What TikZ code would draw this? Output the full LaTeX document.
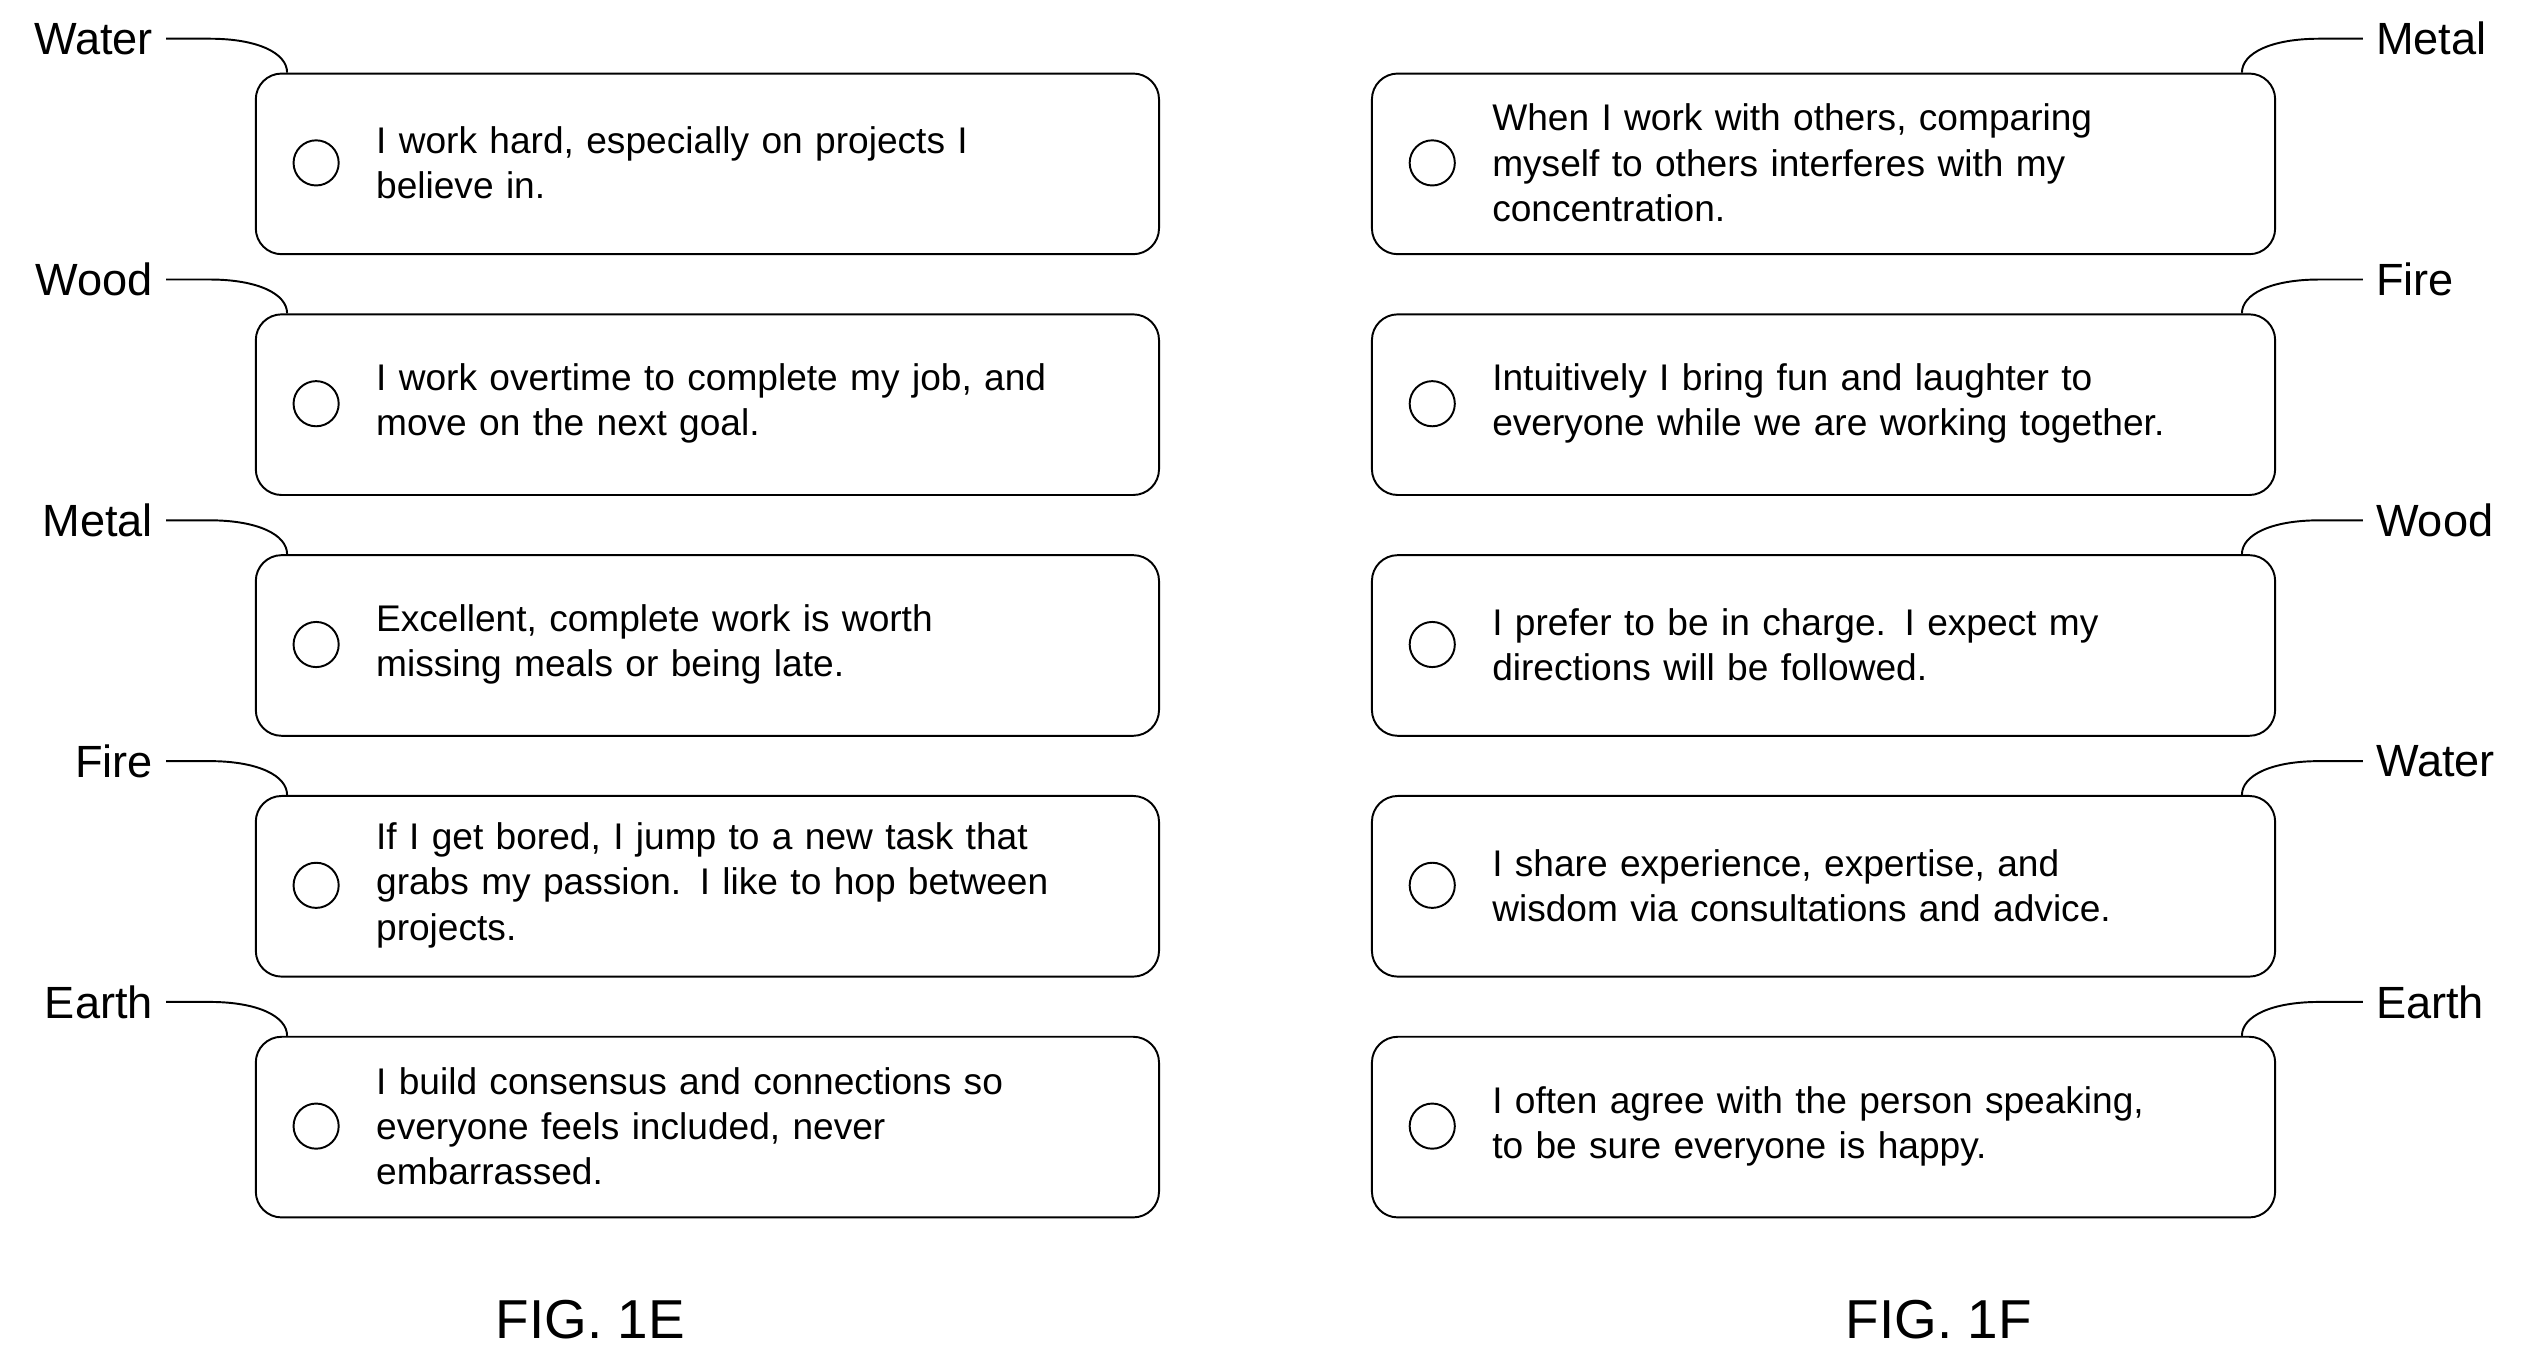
\documentclass[tikz,border=0pt]{standalone}
\usepackage{fontspec}
\setmainfont{Liberation Sans}
\usetikzlibrary{calc}
\begin{document}
\begin{tikzpicture}[x=1pt,y=-1pt,
  box/.style={draw,line width=1.2pt,rounded corners=16pt,minimum width=560pt,minimum height=112pt,anchor=north west},
  circ/.style={draw,line width=1.2pt,circle,minimum size=28pt,inner sep=0pt},
  txt/.style={anchor=west,align=left,text width=470pt,inner sep=0pt,font=\fontsize{23}{28}\selectfont},
  lab/.style={inner sep=0pt,font=\fontsize{28}{30}\selectfont},
  conn/.style={line width=1.2pt},
  fig/.style={font=\fontsize{34}{36}\selectfont}]
\useasboundingbox (0,0) rectangle (1568,843);
\foreach \side/\bx/\lx/\i/\lab/\t in {
 L/158/0/1/Water/{I work hard, especially on projects I\\believe in.},
 L/158/0/2/Wood/{I work overtime to complete my job, and\\move on the next goal.},
 L/158/0/3/Metal/{Excellent, complete work is worth\\missing meals or being late.},
 L/158/0/4/Fire/{If I get bored, I jump to a new task that\\grabs my passion. I like to hop between\\projects.},
 L/158/0/5/Earth/{I build consensus and connections so\\everyone feels included, never\\embarrassed.},
 R/850/0/1/Metal/{When I work with others, comparing\\myself to others interferes with my\\concentration.},
 R/850/0/2/Fire/{Intuitively I bring fun and laughter to\\everyone while we are working together.},
 R/850/0/3/Wood/{I prefer to be in charge. I expect my\\directions will be followed.},
 R/850/0/4/Water/{I share experience, expertise, and\\wisdom via consultations and advice.},
 R/850/0/5/Earth/{I often agree with the person speaking,\\to be sure everyone is happy.}}
{
 \pgfmathsetmacro{\by}{45+149.3*(\i-1)}
 \node[box] (b\side\i) at (\bx,\by) {};
 \node[circ] (c\side\i) at (\bx+38,\by+56) {};
 \node[txt] (t\side\i) at (\bx+75,\by+56) {\t};
 \if\side L
   \node[lab,anchor=east] (l\side\i) at (95,\by-21) {\lab};
   \coordinate (k\side\i) at (\bx+20,\by);
   \draw[conn] (l\side\i.east)+(8,0) -- ++(35,0) .. controls +(30,0) and (\bx+20,\by-12) .. (k\side\i);
 \else
   \node[lab,anchor=west] (l\side\i) at (1473,\by-21) {\lab};
   \coordinate (k\side\i) at (\bx+540,\by);
   \draw[conn] (l\side\i.west)+(-8,0) -- ++(-35,0) .. controls +(-30,0) and (\bx+540,\by-12) .. (k\side\i);
 \fi
}
\node[fig] (f1) at (366,818) {FIG. 1E};
\node[fig] (f2) at (1202,818) {FIG. 1F};
\end{tikzpicture}
\end{document}
